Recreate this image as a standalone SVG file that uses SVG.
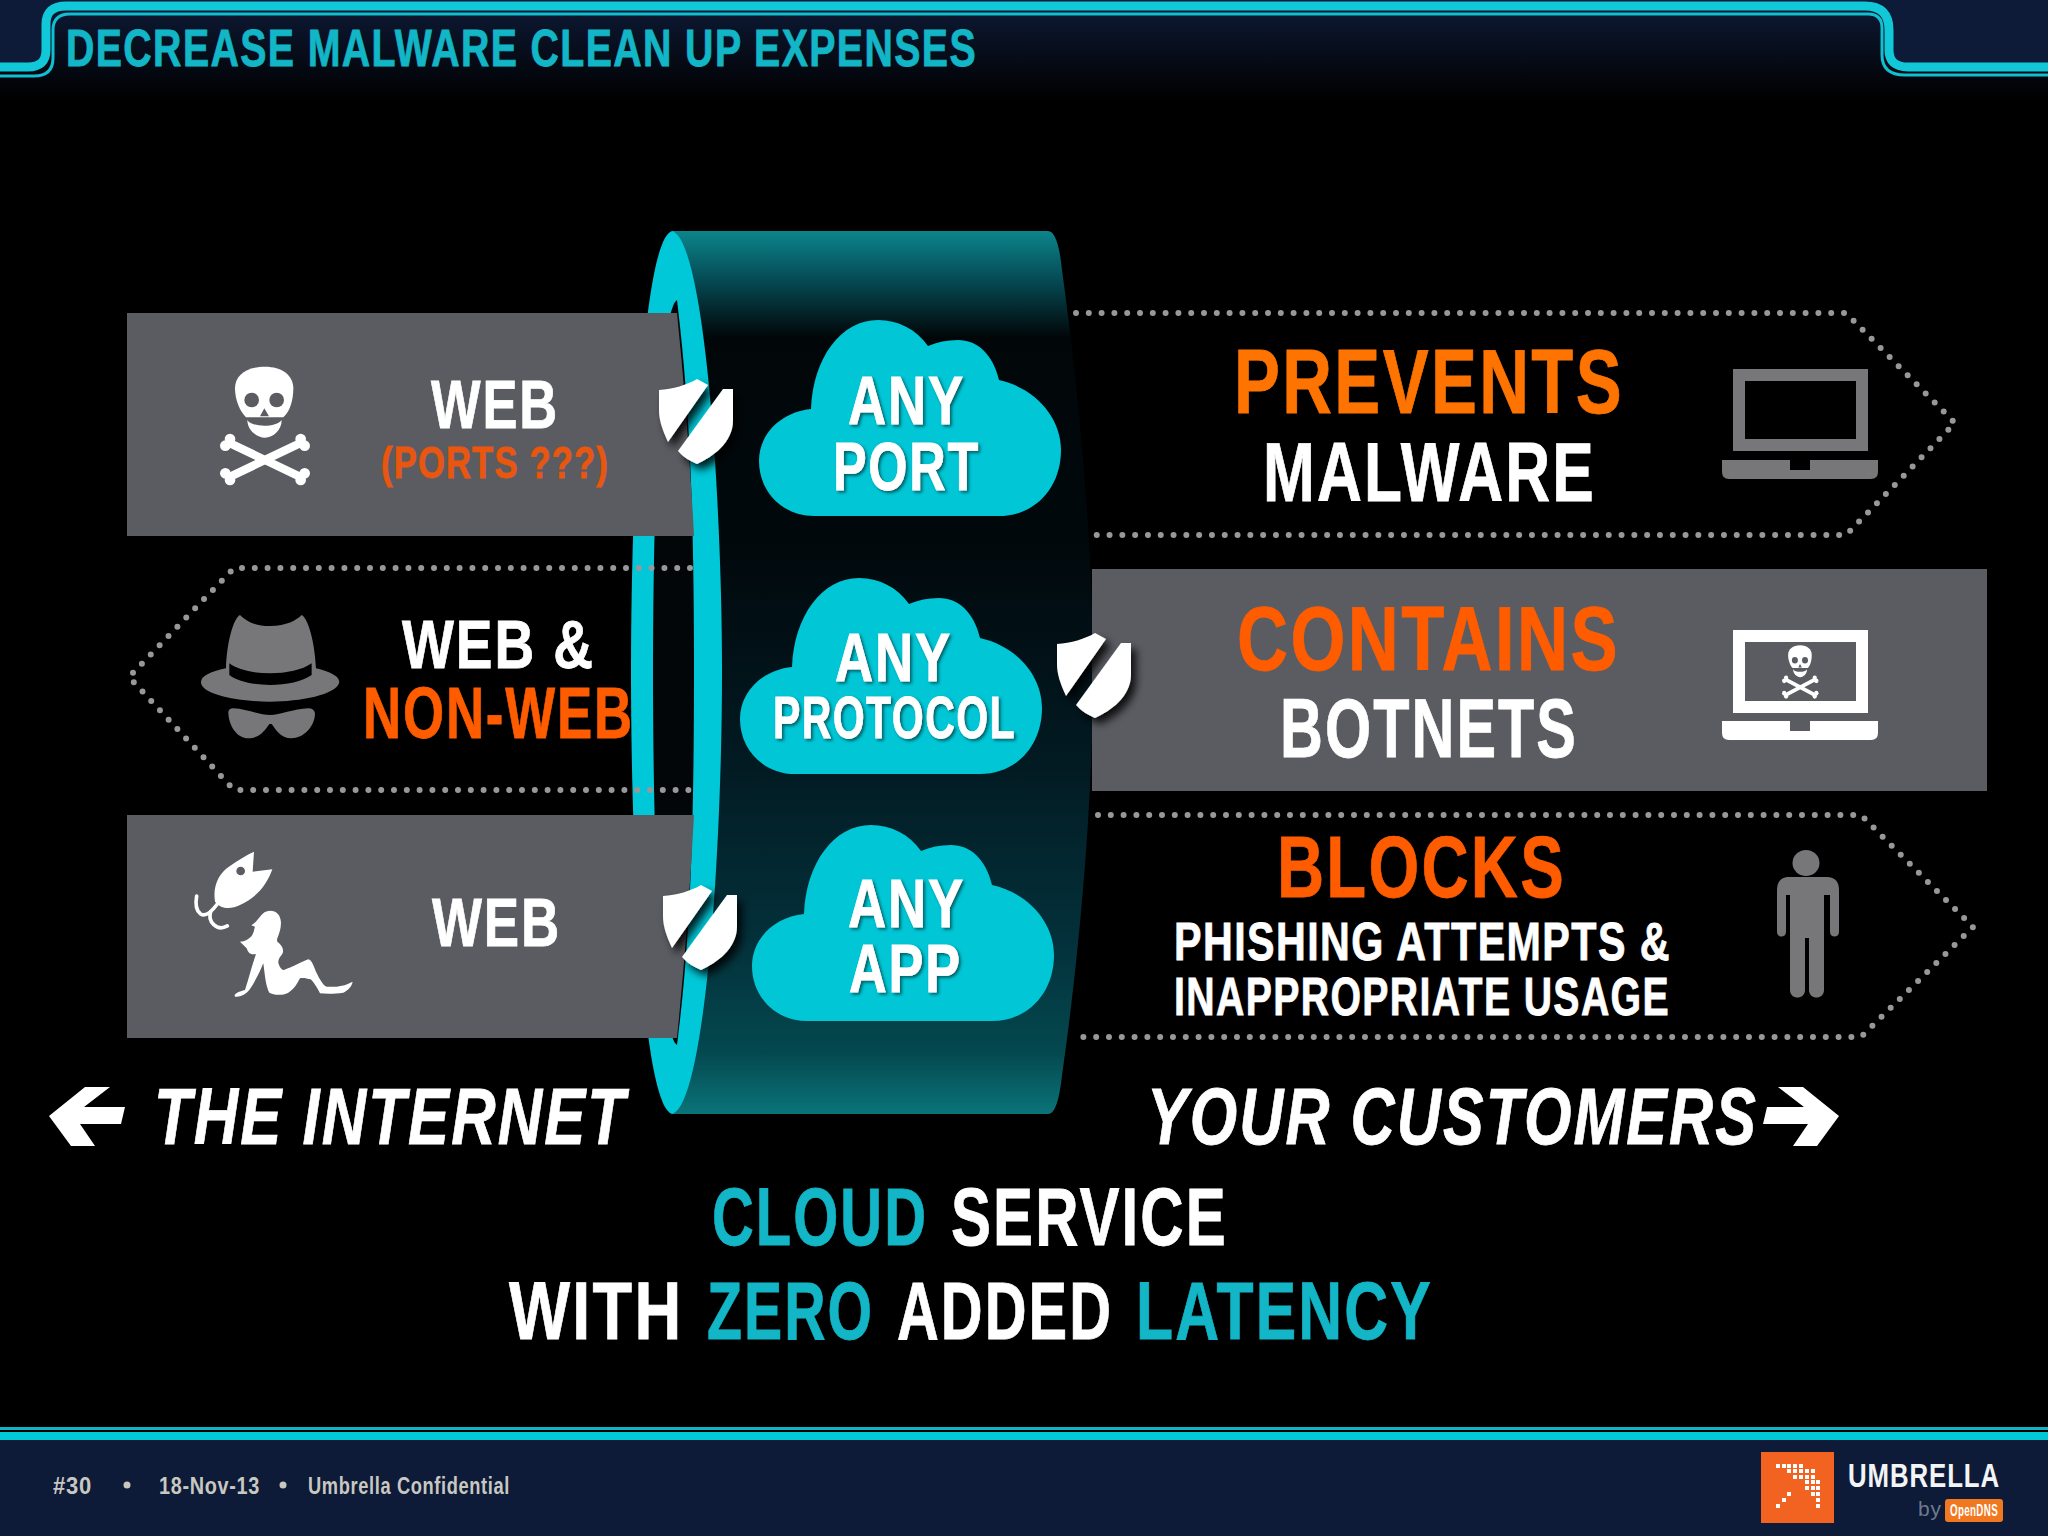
<svg xmlns="http://www.w3.org/2000/svg" width="2048" height="1536" viewBox="0 0 2048 1536">
<style>
text{font-family:"Liberation Sans Narrow","Liberation Sans",Arial,sans-serif;font-weight:700;fill:#fff;stroke:#fff;stroke-width:.8;letter-spacing:.035em}
.o1{fill:#ff7400;stroke:#ff7400}.o2{fill:#ff5c00;stroke:#ff5c00}.t{fill:#12b6c6;stroke:#12b6c6}
.i{font-style:italic}
.c{filter:url(#ts)}
.dots{fill:none;stroke:#98989a;stroke-width:6;stroke-linecap:round;stroke-dasharray:0 12.8}
.gray{fill:#5b5c62}.ic{fill:#777679}
.foot{font-size:24px;fill:#c9c8c0;stroke:none}
</style>
<defs>
<linearGradient id="hd" x1="0" y1="0" x2="0" y2="1"><stop offset="0" stop-color="#0e1b38"/><stop offset="1" stop-color="#000"/></linearGradient>
<linearGradient id="body" x1="0" y1="0" x2="0" y2="1">
<stop offset="0" stop-color="#0b858b"/><stop offset=".05" stop-color="#06505a"/><stop offset=".12" stop-color="#010709"/><stop offset=".35" stop-color="#01080c"/><stop offset=".6" stop-color="#021a22"/><stop offset=".8" stop-color="#03303a"/><stop offset=".93" stop-color="#04484f"/><stop offset="1" stop-color="#0a7479"/>
</linearGradient>
<filter id="ds" x="-30%" y="-30%" width="170%" height="170%"><feDropShadow dx="5" dy="6" stdDeviation="4" flood-color="#000" flood-opacity=".85"/></filter>
<filter id="ts" x="-10%" y="-10%" width="120%" height="130%"><feDropShadow dx="2" dy="2" stdDeviation="1.5" flood-color="#04464c" flood-opacity=".8"/></filter>
<path id="cloud" fill="#00c6d6" d="M55,196 L240,196 C276,196 302,168 302,130 C302,97 276,68 240,60 C234,34 218,20 199,20 C188,20 178,22 169,26 C157,9 139,0 119,0 C82,0 54,38 52,89 C22,92 0,114 0,141 C0,172 24,196 55,196Z"/>
<g id="shield" fill="#fff" filter="url(#ds)">
<path d="M0,11 C14,10 28,6 38,0 L49,6 L9,63 C3,50 0,41 0,31 Z"/>
<path d="M64,10 H74 V41 C74,64 53,78 38,85 C31,82 24,78 19,72 Z"/>
</g>
<g id="skull">
<path fill="#fff" d="M165,35 C110,35 75,60 75,100 C75,135 90,170 108,187 L220,187 C240,170 250,135 250,100 C250,60 215,35 165,35Z"/>
<circle cx="125" cy="135" r="22" fill="#5b5c62"/><circle cx="200" cy="135" r="22" fill="#5b5c62"/>
<path fill="#5b5c62" d="M163,160 L150,184 H177Z"/>
<path fill="#fff" d="M112,195 C125,218 200,218 215,195 C215,225 190,248 165,248 C140,248 112,225 112,195Z"/>
<path stroke="#fff" stroke-width="25" d="M60,265 L270,365 M270,265 L60,365"/>
<g fill="#fff"><circle cx="60" cy="252" r="16"/><circle cx="46" cy="272" r="16"/><circle cx="272" cy="252" r="16"/><circle cx="284" cy="272" r="16"/><circle cx="46" cy="355" r="16"/><circle cx="60" cy="375" r="16"/><circle cx="284" cy="355" r="16"/><circle cx="272" cy="375" r="16"/></g>
</g>
<path id="laptopbase" d="M0,0 H68 V10 H88 V0 H156 V12 Q156,19 149,19 H7 Q0,19 0,12Z"/>
</defs>

<rect width="2048" height="1536" fill="#000"/>
<g id="header">
<rect x="0" y="0" width="2048" height="100" fill="url(#hd)"/>
<path fill="#0e1b38" d="M0,0 H65 Q46,5 46,22 V50 Q46,67 30,67 H0Z"/>
<path fill="#0e1b38" d="M1865,0 H2048 V67 H1908 Q1889,67 1889,50 V30 Q1889,6 1865,6Z"/>
<path fill="none" stroke="#10c8d8" stroke-width="9" d="M0,67 H28 Q46,67 46,50 V24 Q46,6 66,6 H1865 Q1889,6 1889,30 V50 Q1889,67 1908,67 H2048"/>
<path fill="none" stroke="#10c0d0" stroke-width="3" d="M0,76 H34 Q53,76 53,58 V30 Q53,14 70,14 H1868 Q1882,14 1882,28 V55 Q1882,75 1905,75 H2048"/>
<text x="66" y="66" font-size="51" textLength="911" lengthAdjust="spacingAndGlyphs" class="t">DECREASE MALWARE CLEAN UP EXPENSES</text>
</g>

<g id="band">
<path fill="url(#body)" d="M672,231 H1048 Q1058,231 1062,270 C1080,400 1093,550 1093,672 C1093,800 1080,950 1062,1075 Q1058,1114 1048,1114 H672Z"/>
<path fill="#00c8d8" d="M672,231 C642,240 631,500 631,672 C631,850 642,1105 672,1114 C705,1105 722,850 722,672 C722,500 705,240 672,231Z"/>
<path fill="#020608" d="M677,300 C660,310 653,500 653,672 C653,850 660,1035 677,1045 C689,950 694,850 694,672 C694,500 689,400 677,300Z"/>
</g>

<g id="left-web-ports">
<path class="gray" d="M127,313 H677 Q688,420 694,536 H127Z"/>
<use href="#skull" transform="translate(210,355) scale(.3333)"/>
<text x="431" y="428" font-size="68" textLength="128" lengthAdjust="spacingAndGlyphs">WEB</text>
<text x="381" y="478" font-size="45" textLength="228" lengthAdjust="spacingAndGlyphs" style="fill:#e8560f;stroke:#e8560f">(PORTS ???)</text>
</g>

<g id="left-web-nonweb">
<path class="dots" d="M690,568 H234 L129,677 L234,790 H690"/>
<path class="ic" d="M150,45 C165,60 190,78 240,78 C290,78 320,60 335,45 C355,55 375,130 378,205 C420,215 448,228 448,247 C440,285 330,305 240,305 C150,305 33,285 33,247 C33,228 60,215 108,205 C110,130 130,55 150,45Z" transform="translate(190,600) scale(.3333)"/>
<path fill="#000" d="M118,190 C170,230 310,230 365,190 V225 C310,265 170,265 118,225Z" transform="translate(190,600) scale(.3333)"/>
<path class="ic" d="M115,335 Q118,325 130,325 C170,327 210,345 240,345 C270,345 310,327 355,325 Q372,325 375,340 C375,380 340,415 305,415 C270,415 255,385 245,372 H238 C225,390 210,415 175,415 C140,415 115,375 115,335Z" transform="translate(190,600) scale(.3333)"/>
<text x="402" y="668" font-size="68" textLength="193" lengthAdjust="spacingAndGlyphs">WEB &amp;</text>
<text x="363" y="738" font-size="73" textLength="271" lengthAdjust="spacingAndGlyphs" class="o2">NON-WEB</text>
</g>

<g id="left-web">
<path class="gray" d="M127,815 H694 Q688,930 677,1038 H127Z"/>
<g transform="translate(180,840) scale(.3333)" fill="#fff">
<path d="M222,35 L218,95 L277,88 C262,130 235,170 180,195 C155,207 125,210 105,185 C98,140 115,100 150,78 C175,60 200,45 222,35Z"/>
<circle cx="182" cy="93" r="13" fill="#5b5c62"/>
<path fill="none" stroke="#fff" stroke-width="11" stroke-linecap="round" d="M112,192 C95,215 78,232 62,222 C48,212 46,190 50,168"/>
<path fill="none" stroke="#fff" stroke-width="11" stroke-linecap="round" d="M92,215 C82,245 110,275 142,258"/>
<path d="M270,212 C290,212 302,225 303,248 C303,265 298,278 295,287 C292,295 290,298 292,305 C305,315 312,325 308,340 C302,350 295,355 295,368 C298,380 305,390 312,390 C340,380 365,365 385,358 C395,360 400,375 408,395 C418,415 428,435 440,440 C465,442 490,440 518,425 C515,440 505,450 490,458 C465,462 440,462 420,460 C410,440 400,425 392,418 C380,415 370,412 360,415 C352,430 345,445 325,458 C305,468 280,465 268,458 C258,440 255,410 250,370 C240,395 225,425 208,450 C195,465 180,472 165,470 C160,462 175,455 195,450 C205,420 215,380 228,342 C215,345 205,342 200,325 L180,305 C195,305 205,298 215,288 C222,278 222,268 225,260 L214,256 C225,250 232,240 240,230 C248,218 258,212 270,212Z"/>
</g>
<text x="432" y="946" font-size="68" textLength="129" lengthAdjust="spacingAndGlyphs">WEB</text>
</g>

<g id="cloud-port">
<use href="#cloud" x="759" y="320"/>
<text class="c" x="848" y="424" font-size="68" textLength="117" lengthAdjust="spacingAndGlyphs">ANY</text>
<text class="c" x="833" y="490" font-size="68" textLength="147" lengthAdjust="spacingAndGlyphs">PORT</text>
</g>
<g id="cloud-protocol">
<use href="#cloud" x="740" y="578"/>
<text class="c" x="835" y="681" font-size="68" textLength="117" lengthAdjust="spacingAndGlyphs">ANY</text>
<text class="c" x="773" y="738" font-size="60" textLength="243" lengthAdjust="spacingAndGlyphs">PROTOCOL</text>
</g>
<g id="cloud-app">
<use href="#cloud" x="752" y="825"/>
<text class="c" x="848" y="927" font-size="68" textLength="117" lengthAdjust="spacingAndGlyphs">ANY</text>
<text class="c" x="849" y="992" font-size="68" textLength="113" lengthAdjust="spacingAndGlyphs">APP</text>
</g>

<g id="right-prevents">
<path class="dots" d="M1076,313 H1846 L1955,423 L1846,535 H1093"/>
<text x="1234" y="413" font-size="90" textLength="390" lengthAdjust="spacingAndGlyphs" class="o1">PREVENTS</text>
<text x="1263" y="501" font-size="83" textLength="333" lengthAdjust="spacingAndGlyphs">MALWARE</text>
<rect x="1739" y="375" width="123" height="70" fill="none" stroke="#777679" stroke-width="12"/>
<use href="#laptopbase" x="1722" y="460" class="ic"/>
</g>

<g id="right-contains">
<rect class="gray" x="1092" y="569" width="895" height="222"/>
<text x="1237" y="670" font-size="90" textLength="383" lengthAdjust="spacingAndGlyphs" class="o2">CONTAINS</text>
<text x="1280" y="757" font-size="83" textLength="298" lengthAdjust="spacingAndGlyphs">BOTNETS</text>
<rect x="1739" y="636" width="123" height="71" fill="none" stroke="#fff" stroke-width="12"/>
<use href="#laptopbase" x="1722" y="721" fill="#fff"/>
<use href="#skull" transform="translate(1778,640) scale(.135,.15)"/>
</g>

<g id="right-blocks">
<path class="dots" d="M1098,815 H1861 L1973,927 L1861,1037 H1079"/>
<text x="1277" y="897" font-size="88" textLength="289" lengthAdjust="spacingAndGlyphs" class="o2">BLOCKS</text>
<text x="1174" y="960" font-size="54" textLength="497" lengthAdjust="spacingAndGlyphs">PHISHING ATTEMPTS &amp;</text>
<text x="1174" y="1015" font-size="54" textLength="496" lengthAdjust="spacingAndGlyphs">INAPPROPRIATE USAGE</text>
<ellipse class="ic" cx="1806" cy="863" rx="13.500" ry="13"/>
<path class="ic" d="M1789,877 H1827 C1835,877 1839,882 1839,890 V932 C1839,938 1830,938 1830,932 V895 H1824 V990 C1824,1000 1809,1000 1809,990 V938 H1805 V990 C1805,1000 1790,1000 1790,990 V895 H1786 V932 C1786,938 1777,938 1777,932 V890 C1777,882 1781,877 1789,877Z"/>
</g>

<g id="shields">
<use href="#shield" x="659" y="379"/>
<use href="#shield" x="1057" y="633"/>
<use href="#shield" x="663" y="885"/>
</g>

<g id="connectors" fill="#fff">
<polygon points="49,1116 85,1087 110,1087 84,1107 125,1107 121,1124 80,1124 95,1146 71,1146"/>
<polygon points="1839,1116 1803,1087 1778,1087 1804,1107 1767,1107 1763,1124 1808,1124 1793,1146 1817,1146"/>
</g>

<g id="bottom-labels">
<text class="i" x="154" y="1144" font-size="80" textLength="473" lengthAdjust="spacingAndGlyphs">THE INTERNET</text>
<text class="i" x="1147" y="1144" font-size="80" textLength="611" lengthAdjust="spacingAndGlyphs">YOUR CUSTOMERS</text>
<text class="t" transform="translate(712,1245) scale(.8,1)" font-size="82" textLength="270" lengthAdjust="spacingAndGlyphs">CLOUD</text>
<text transform="translate(951,1245) scale(.8,1)" font-size="82" textLength="346" lengthAdjust="spacingAndGlyphs">SERVICE</text>
<text transform="translate(509,1339) scale(.8,1)" font-size="82" textLength="218" lengthAdjust="spacingAndGlyphs">WITH</text>
<text class="t" transform="translate(707,1339) scale(.8,1)" font-size="82" textLength="209" lengthAdjust="spacingAndGlyphs">ZERO</text>
<text transform="translate(897,1339) scale(.8,1)" font-size="82" textLength="270" lengthAdjust="spacingAndGlyphs">ADDED</text>
<text class="t" transform="translate(1136,1339) scale(.8,1)" font-size="82" textLength="371" lengthAdjust="spacingAndGlyphs">LATENCY</text>
</g>

<g id="footer">
<rect x="0" y="1440" width="2048" height="96" fill="#0d1a38"/>
<rect x="0" y="1427" width="2048" height="3" fill="#10b4c4"/>
<rect x="0" y="1432" width="2048" height="8" fill="#00c8d4"/>
<text class="foot" x="53" y="1494" textLength="39" lengthAdjust="spacingAndGlyphs">#30</text>
<circle cx="127" cy="1485" r="3.500" fill="#c9c8c0"/>
<text class="foot" x="159" y="1494" textLength="101" lengthAdjust="spacingAndGlyphs">18-Nov-13</text>
<circle cx="283" cy="1485" r="3.500" fill="#c9c8c0"/>
<text class="foot" x="308" y="1494" textLength="202" lengthAdjust="spacingAndGlyphs">Umbrella Confidential</text>
<rect x="1761" y="1452" width="73" height="71" fill="#f26322"/>
<path fill="#fff" d="M1776,1464h4v4h-4zM1782,1464h4v4h-4zM1787,1464h4v4h-4zM1793,1464h4v4h-4zM1799,1464h4v4h-4zM1787,1469h4v4h-4zM1793,1469h4v4h-4zM1799,1469h4v4h-4zM1805,1469h4v4h-4zM1811,1469h4v4h-4zM1793,1475h4v4h-4zM1799,1475h4v4h-4zM1805,1475h4v4h-4zM1811,1475h4v4h-4zM1805,1480h4v4h-4zM1811,1480h4v4h-4zM1816,1480h4v4h-4zM1805,1486h4v4h-4zM1811,1486h4v4h-4zM1816,1486h4v4h-4zM1811,1492h4v4h-4zM1816,1492h4v4h-4zM1816,1498h4v4h-4zM1816,1504h4v4h-4zM1787,1492h4v4h-4zM1782,1498h4v4h-4zM1776,1504h4v4h-4z"/>
<text x="1848" y="1487" font-size="33" textLength="152" lengthAdjust="spacingAndGlyphs" style="fill:#f2f4f6;stroke:none">UMBRELLA</text>
<text x="1918" y="1516" font-size="21" style="font-weight:400;fill:#6d7a90;stroke:none">by</text>
<rect x="1945" y="1499" width="58" height="23" rx="3" fill="#f07820"/>
<text x="1950" y="1516" font-size="17" textLength="48" lengthAdjust="spacingAndGlyphs" style="stroke:none">OpenDNS</text>
</g>
</svg>
